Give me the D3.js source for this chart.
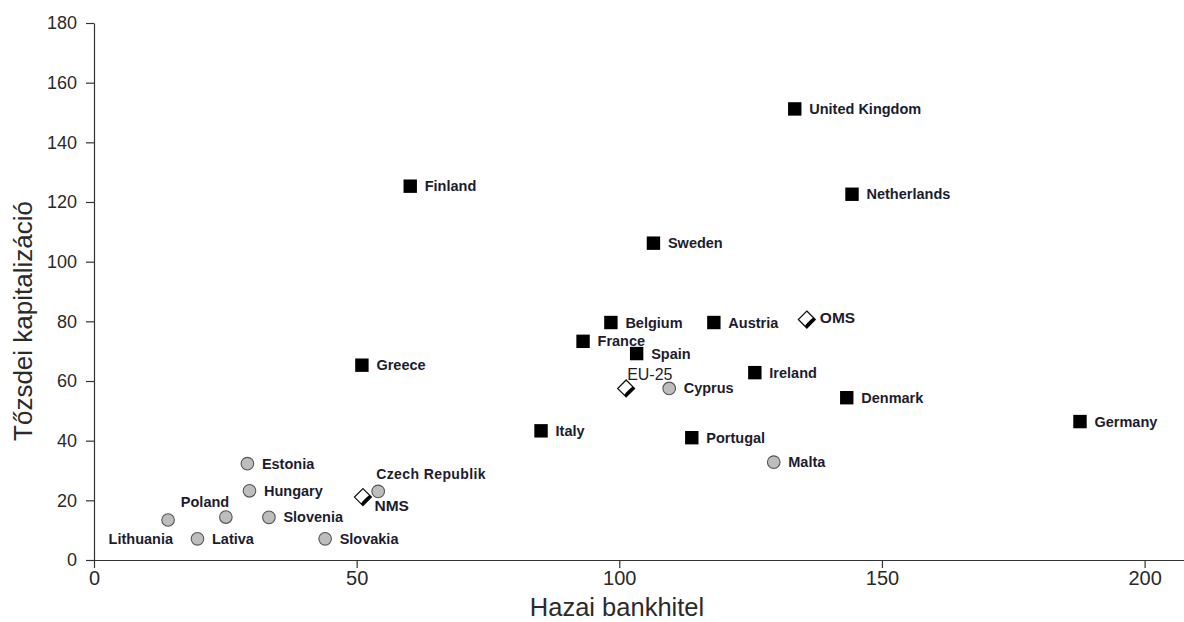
<!DOCTYPE html>
<html>
<head>
<meta charset="utf-8">
<script src="https://cdn.jsdelivr.net/npm/d3@7/dist/d3.min.js"></script>
<style>
  html, body { margin: 0; padding: 0; background: #fff; }
  svg { display: block; font-family: "Liberation Sans", Arial, sans-serif; }
</style>
</head>
<body>
<svg id="chart" width="1184" height="622"></svg>
<script>
// ---- data ----
const countries = ["United Kingdom","Netherlands","Finland","Sweden","Belgium","Austria","OMS","France","Spain","Greece","Ireland","EU-25","Cyprus","Denmark","Germany","Italy","Portugal","Malta","Estonia","Hungary","Czech Republik","NMS","Poland","Slovenia","Lithuania","Lativa","Slovakia"];
const bankCredit = [133.4,144.3,60.2,106.5,98.4,118.0,135.7,93.1,103.3,51.0,125.8,101.3,109.5,143.3,187.7,85.1,113.8,129.4,29.2,29.6,54.1,51.2,25.1,33.3,14.1,19.7,44.0];
const marketCap = [151.2,122.6,125.3,106.2,79.6,79.6,80.6,73.3,69.2,65.3,62.8,57.5,57.5,54.4,46.4,43.3,41.0,32.8,32.3,23.2,23.0,21.1,14.4,14.3,13.4,7.1,7.1];
const groups = ["old","old","old","old","old","old","agg","old","old","old","old","agg","new","old","old","old","old","new","new","new","new","agg","new","new","new","new","new"];
const xTicks = [0,50,100,150,200];
const yTicks = [0,20,40,60,80,100,120,140,160,180];
const xTitle = "Hazai bankhitel";
const yTitle = "Tőzsdei kapitalizáció";

// ---- label layout (positions relative to marker) ----
const labelLayout = {
  "OMS":            {dx: 13,  dy: 3,   weight: "bold", size: 15.5},
  "EU-25":          {dx: 1,   dy: -8.5, weight: "normal", size: 16},
  "NMS":            {dx: 11.5, dy: 13.5, weight: "bold", size: 15.5},
  "Czech Republik": {dx: -2,  dy: -12.5, weight: "bold", size: 14, spacing: 0.4},
  "Poland":         {dx: -45, dy: -10, weight: "bold", size: 14.5},
  "Lithuania":      {dx: 5,   dy: 24,  weight: "bold", size: 14.5, anchor: "end"}
};

const W = 1184, H = 622;
const margin = {left: 94, top: 23, bottom: 62};
const svg = d3.select("#chart");

const x = d3.scaleLinear().domain([0, 207.5]).range([margin.left, W]);
const y = d3.scaleLinear().domain([0, 180]).range([H - margin.bottom, margin.top]);

// axes
const xAxis = d3.axisBottom(x).tickValues(xTicks).tickSize(8).tickPadding(3).tickSizeOuter(0);
const yAxis = d3.axisLeft(y).tickValues(yTicks).tickSize(8).tickPadding(9).tickSizeOuter(0);

const gx = svg.append("g").attr("transform", `translate(0,${y(0)})`).call(xAxis);
gx.select(".domain").attr("stroke", "#333").attr("stroke-width", 1.2);
gx.selectAll(".tick line").attr("stroke", "#333").attr("stroke-width", 1.2);
gx.selectAll(".tick text").attr("font-size", 20).attr("fill", "#2a2a2a").attr("font-family", "Liberation Sans, Arial, sans-serif");

const gy = svg.append("g").attr("transform", `translate(${x(0)},0)`).call(yAxis);
gy.select(".domain").attr("stroke", "#333").attr("stroke-width", 1.2);
gy.selectAll(".tick line").attr("stroke", "#333").attr("stroke-width", 1.2);
gy.selectAll(".tick text").attr("font-size", 18).attr("fill", "#2a2a2a").attr("font-family", "Liberation Sans, Arial, sans-serif");

// axis titles
svg.append("text")
  .attr("x", 617).attr("y", 616)
  .attr("text-anchor", "middle")
  .attr("font-size", 25.5).attr("fill", "#2a2a2a")
  .text(xTitle);
svg.append("text")
  .attr("transform", "translate(32,321) rotate(-90)")
  .attr("text-anchor", "middle")
  .attr("font-size", 26).attr("fill", "#2a2a2a")
  .text(yTitle);

// points
const data = countries.map((c, i) => ({name: c, x: bankCredit[i], y: marketCap[i], g: groups[i]}));
const pts = svg.append("g");

data.forEach(d => {
  const cx = x(d.x), cy = y(d.y);
  const g = pts.append("g").attr("transform", `translate(${cx},${cy})`);
  if (d.g === "old") {
    g.append("rect").attr("x", -6.7).attr("y", -6.7).attr("width", 13.4).attr("height", 13.4).attr("fill", "#000");
  } else if (d.g === "new") {
    g.append("circle").attr("r", 6.3).attr("fill", "#bdbdbd").attr("stroke", "#555").attr("stroke-width", 1.1);
  } else {
    const h = 8.5;
    g.append("path").attr("d", `M0,${-h}L${h},0L0,${h}L${-h},0Z`)
      .attr("fill", "#fff").attr("stroke", "#111").attr("stroke-width", 1.2);
    g.append("path").attr("d", `M${h},0L0,${h}L-2,${h-2}L0,${h-4.5}L${h-4.5},0L${h-2},-2Z`)
      .attr("fill", "#000");
  }
});

// labels
const labels = svg.append("g");
data.forEach(d => {
  const cx = x(d.x), cy = y(d.y);
  const L = labelLayout[d.name] || {dx: 14.5, dy: 5, weight: "bold", size: 14.5};
  labels.append("text")
    .attr("x", cx + L.dx).attr("y", cy + L.dy)
    .attr("text-anchor", L.anchor || "start")
    .attr("font-size", L.size)
    .attr("font-weight", L.weight)
    .attr("letter-spacing", L.spacing || 0)
    .attr("fill", "#1c1c2e")
    .text(d.name);
});
</script>
</body>
</html>
